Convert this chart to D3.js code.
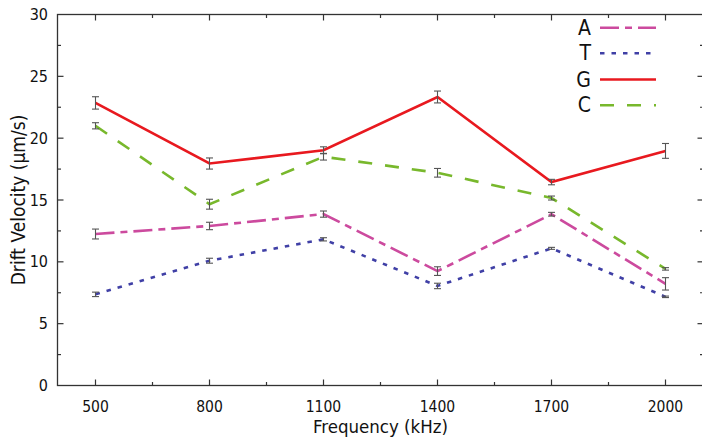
<!DOCTYPE html>
<html>
<head>
<meta charset="utf-8">
<script src="https://cdn.jsdelivr.net/npm/d3@7"></script>
<style>
  html, body { margin: 0; padding: 0; background: #fff; }
  svg { display: block; }
  text { font-family: "DejaVu Sans Condensed", "DejaVu Sans", sans-serif; fill: #111; }
</style>
</head>
<body>
<svg id="chart" width="702" height="437"></svg>
<script>
// Frequencies (kHz) on the x axis
const frequencies = [500, 800, 1100, 1400, 1700, 2000];

// Mean drift velocity (µm/s) per nucleotide
const seriesA = [12.25, 12.9, 13.86, 9.25, 13.85, 8.22];
const seriesT = [7.37, 10.09, 11.82, 8.05, 11.09, 7.17];
const seriesG = [22.85, 17.95, 19.02, 23.33, 16.45, 18.97];
const seriesC = [21.0, 14.66, 18.5, 17.2, 15.16, 9.43];

// Error bar half-widths (µm/s)
const errA = [0.4, 0.3, 0.25, 0.35, 0.15, 0.5];
const errT = [0.18, 0.2, 0.13, 0.22, 0.08, 0.06];
const errG = [0.5, 0.45, 0.28, 0.48, 0.22, 0.6];
const errC = [0.25, 0.4, 0.27, 0.35, 0.16, 0.1];

const seriesNames = ["A", "T", "G", "C"];
const xTicks = [500, 800, 1100, 1400, 1700, 2000];
const xMinorTicks = [650, 950, 1250, 1550, 1850];
const yTicks = [0, 5, 10, 15, 20, 25, 30];
const yMinorTicks = [2.5, 7.5, 12.5, 17.5, 22.5, 27.5];

const series = [
  { name: seriesNames[0], values: seriesA, err: errA, color: "#cc4a9e", dash: "19,6,7,6" },
  { name: seriesNames[1], values: seriesT, err: errT, color: "#4040a6", dash: "4.5,7" },
  { name: seriesNames[2], values: seriesG, err: errG, color: "#e8191f", dash: null },
  { name: seriesNames[3], values: seriesC, err: errC, color: "#78b82c", dash: "14,13" }
];

const svg = d3.select("#chart");
const plotLeft = 57.5, plotRight = 703.5, plotTop = 14.5, plotBottom = 385.5;

const x = d3.scaleLinear().domain([400, 2100]).range([plotLeft, plotRight]);
const y = d3.scaleLinear().domain([0, 30]).range([plotBottom, plotTop]);

const axisColor = "#333";

// Frame
svg.append("rect")
  .attr("x", plotLeft).attr("y", plotTop)
  .attr("width", plotRight - plotLeft).attr("height", plotBottom - plotTop)
  .attr("fill", "none").attr("stroke", axisColor).attr("stroke-width", 1.3);

// Inward ticks on all four sides
function ticks(group, values, len, horizontal) {
  values.forEach(v => {
    if (horizontal) {
      group.append("line").attr("x1", x(v)).attr("x2", x(v)).attr("y1", plotBottom).attr("y2", plotBottom - len);
      group.append("line").attr("x1", x(v)).attr("x2", x(v)).attr("y1", plotTop).attr("y2", plotTop + len);
    } else {
      group.append("line").attr("y1", y(v)).attr("y2", y(v)).attr("x1", plotLeft).attr("x2", plotLeft + len);
      group.append("line").attr("y1", y(v)).attr("y2", y(v)).attr("x1", plotRight).attr("x2", plotRight - len);
    }
  });
}
const tg = svg.append("g").attr("stroke", axisColor).attr("stroke-width", 1.2);
ticks(tg, xTicks, 6, true);
ticks(tg, xMinorTicks, 3.5, true);
ticks(tg, yTicks.slice(1, -1), 6, false);
ticks(tg, yMinorTicks, 3.5, false);

// Tick labels
svg.append("g").selectAll("text").data(xTicks).join("text")
  .attr("x", d => x(d)).attr("y", 406.5)
  .attr("text-anchor", "middle").attr("dominant-baseline", "central")
  .attr("font-size", 15.5).text(d => d);

svg.append("g").selectAll("text").data(yTicks).join("text")
  .attr("x", 48).attr("y", d => y(d))
  .attr("text-anchor", "end").attr("dominant-baseline", "central")
  .attr("font-size", 16).text(d => d);

// Axis titles
svg.append("text")
  .attr("x", (x(500) + x(2000)) / 2).attr("y", 426.5)
  .attr("text-anchor", "middle").attr("dominant-baseline", "central")
  .attr("font-size", 18.5).text("Frequency (kHz)");

svg.append("text")
  .attr("transform", `translate(18,${(plotTop + plotBottom) / 2}) rotate(-90)`)
  .attr("text-anchor", "middle").attr("dominant-baseline", "central")
  .attr("font-size", 19).text("Drift Velocity (µm/s)");

// Series lines
const line = d3.line().x((d, i) => x(frequencies[i])).y(d => y(d));
series.forEach(s => {
  svg.append("path")
    .datum(s.values)
    .attr("d", line)
    .attr("fill", "none")
    .attr("stroke", s.color)
    .attr("stroke-width", 2.6)
    .attr("stroke-dasharray", s.dash)
    .attr("stroke-linejoin", "miter");
});

// Error bars
const eg = svg.append("g").attr("stroke", "#555").attr("stroke-width", 1.1);
series.forEach(s => {
  s.values.forEach((v, i) => {
    const cx = x(frequencies[i]);
    const y1 = y(v - s.err[i]), y2 = y(v + s.err[i]);
    eg.append("line").attr("x1", cx).attr("x2", cx).attr("y1", y1).attr("y2", y2);
    eg.append("line").attr("x1", cx - 3.5).attr("x2", cx + 3.5).attr("y1", y1).attr("y2", y1);
    eg.append("line").attr("x1", cx - 3.5).attr("x2", cx + 3.5).attr("y1", y2).attr("y2", y2);
  });
});

// Legend
const legendY = [27.7, 53.3, 79.5, 105.3];
series.forEach((s, i) => {
  svg.append("text")
    .attr("x", 591).attr("y", legendY[i])
    .attr("text-anchor", "end").attr("dominant-baseline", "central")
    .attr("font-size", 21).text(s.name);
  svg.append("line")
    .attr("x1", 600).attr("x2", 656)
    .attr("y1", legendY[i]).attr("y2", legendY[i])
    .attr("stroke", s.color).attr("stroke-width", 2.6)
    .attr("stroke-dasharray", s.dash);
});
</script>
</body>
</html>
